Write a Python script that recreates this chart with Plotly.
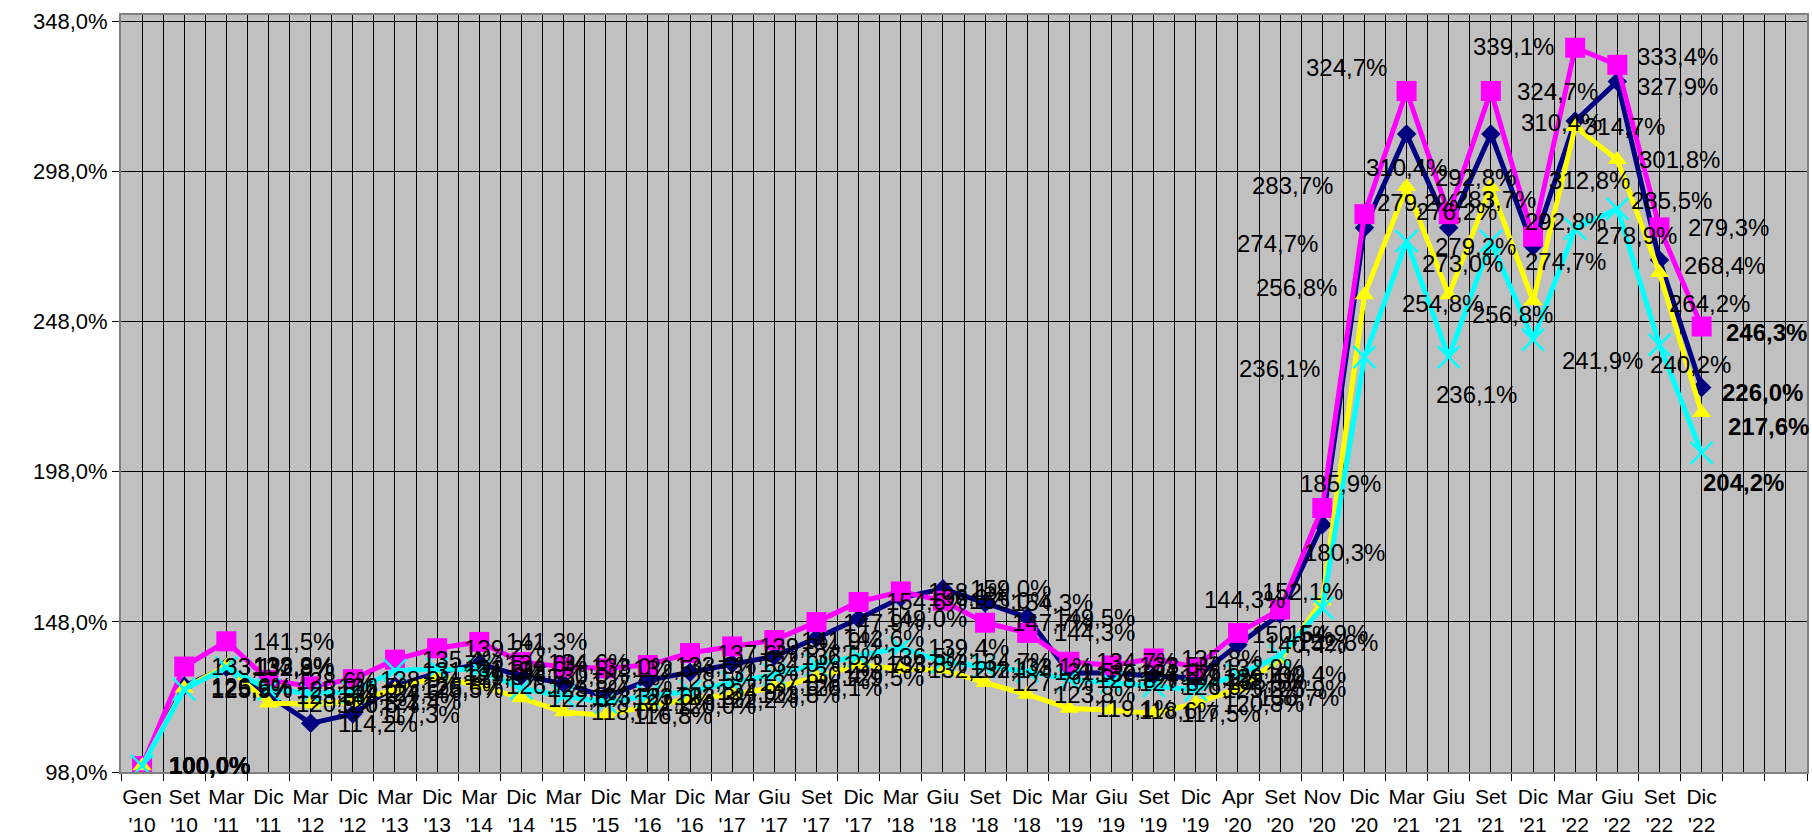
import plotly.graph_objects as go

categories = ["Gen '10", "Set '10", "Mar '11", "Dic '11", "Mar '12", "Dic '12", "Mar '13", "Dic '13",
              "Mar '14", "Dic '14", "Mar '15", "Dic '15", "Mar '16", "Dic '16", "Mar '17", "Giu '17",
              "Set '17", "Dic '17", "Mar '18", "Giu '18", "Set '18", "Dic '18", "Mar '19", "Giu '19",
              "Set '19", "Dic '19", "Apr '20", "Set '20", "Nov '20", "Dic '20", "Mar '21", "Giu '21",
              "Set '21", "Dic '21", "Mar '22", "Giu '22", "Set '22", "Dic '22"]

navy_vals = [100.0, 126.6, 132.9, 123.5, 114.2, 117.3, 126.6, 131.0, 134.0, 130.0,
             127.5, 123.0, 128.5, 131.2, 134.0, 136.5, 142.6, 149.0, 156.0, 159.0,
             154.3, 149.5, 130.9, 131.0, 129.9, 129.4, 140.4, 150.5, 180.3, 279.2,
             310.4, 279.2, 310.4, 273.0, 314.7, 327.9, 268.4, 226.0]
magenta_vals = [100.0, 133.1, 141.5, 128.6, 126.5, 128.9, 135.4, 139.2, 141.3, 134.6,
                133.0, 132.5, 133.6, 137.6, 139.8, 141.9, 147.9, 154.6, 158.1, 155.0,
                147.7, 144.3, 134.7, 133.5, 135.8, 132.9, 144.3, 152.1, 185.9, 283.7,
                324.7, 283.7, 324.7, 276.2, 339.1, 333.4, 279.3, 246.3]
yellow_vals = [100.0, 125.9, 133.3, 120.9, 120.6, 121.4, 125.5, 129.8, 126.7, 122.6,
               118.0, 116.8, 120.0, 122.2, 123.8, 126.1, 129.5, 133.8, 132.2, 132.1,
               127.7, 123.8, 119.1, 118.6, 117.5, 120.8, 125.9, 135.5, 154.9, 256.8,
               292.8, 256.8, 292.8, 254.8, 312.8, 301.8, 264.2, 217.6]
cyan_vals = [100.0, 125.5, 132.8, 125.5, 124.2, 124.6, 131.8, 132.3, 132.0, 125.8,
             123.3, 121.2, 123.3, 124.9, 127.8, 130.4, 133.7, 136.5, 139.4, 134.7,
             133.1, 131.5, 128.8, 127.8, 126.6, 125.3, 130.4, 136.7, 152.6, 236.1,
             274.7, 236.1, 274.7, 241.9, 278.9, 285.5, 240.2, 204.2]

y_ticks = [98, 148, 198, 248, 298, 348]
n_slots = 40  # category slots on the axis (two empty at the end)

FONT = "Liberation Sans, Arial, sans-serif"


def fmt(v):
    return f"{v:.1f}".replace(".", ",") + "%"


# style: (name, values, color, symbol, size)
series = [
    ("navy", navy_vals, "#000080", "diamond", 15),
    ("magenta", magenta_vals, "#FF00FF", "square", 20),
    ("yellow", yellow_vals, "#FFFF00", "triangle-up", 17),
    ("cyan", cyan_vals, "#00FFFF", "x-thin", 22),
]

# label placement overrides (xanchor, x shift px, y shift px)
label_pos = {
    ("magenta", 26): ("center", 7, 33),
    ("magenta", 27): ("center", 22, 18),
    ("navy", 27): ("left", -30, -20),
    ("yellow", 28): ("left", -37, -32),
    ("cyan", 28): ("left", -27, -35),
    ("magenta", 28): ("center", 18, 24),
    ("navy", 28): ("center", 22, -28),
    ("cyan", 27): ("center", 18, -42),
    ("yellow", 27): ("center", -14, -22),
    ("magenta", 29): ("right", -29, 29),
    ("navy", 29): ("left", 11, 25),
    ("yellow", 29): ("right", -25, 7),
    ("cyan", 29): ("right", -42, -11),
    ("magenta", 30): ("right", -18, 24),
    ("navy", 30): ("center", 0, -34),
    ("yellow", 30): ("left", 26, 9),
    ("cyan", 30): ("right", -87, -2),
    ("magenta", 31): ("left", 4, 15),
    ("navy", 31): ("left", -16, -19),
    ("yellow", 31): ("left", 21, -20),
    ("cyan", 31): ("left", -15, -37),
    ("magenta", 32): ("left", 24, 0),
    ("navy", 32): ("left", 28, 11),
    ("yellow", 32): ("left", 32, -35),
    ("cyan", 32): ("left", 32, -20),
    ("magenta", 33): ("right", -34, 25),
    ("navy", 33): ("right", -28, -17),
    ("yellow", 33): ("right", -48, -3),
    ("cyan", 33): ("left", 27, -21),
    ("magenta", 34): ("right", -19, 1),
    ("navy", 34): ("left", 7, -5),
    ("yellow", 34): ("center", 14, -54),
    ("cyan", 34): ("left", 19, -7),
    ("magenta", 35): ("left", 18, 8),
    ("navy", 35): ("left", 18, -5),
    ("yellow", 35): ("left", 20, 0),
    ("cyan", 35): ("left", 12, 8),
    ("magenta", 36): ("left", 27, 0),
    ("navy", 36): ("left", 23, -5),
    ("yellow", 36): ("left", 8, -31),
    ("cyan", 36): ("left", -11, -20),
    ("magenta", 37): ("left", 22, -6),
    ("navy", 37): ("left", 18, -5),
    ("yellow", 37): ("left", 24, -14),
    ("cyan", 37): ("left", -1, -30),
}

fig = go.Figure()
x_idx = list(range(len(categories)))
annotations = []
for name, vals, color, symbol, size in series:
    if symbol == "x-thin":
        marker = dict(symbol=symbol, size=size, color=color, line=dict(color=color, width=2.5))
    else:
        marker = dict(symbol=symbol, size=size, color=color, line=dict(width=0))
    fig.add_trace(go.Scatter(x=x_idx, y=vals, mode="lines+markers", name=name,
                             line=dict(color=color, width=5), marker=marker,
                             showlegend=False, hoverinfo="skip"))
    for i, v in enumerate(vals):
        anchor, dx, dy = label_pos.get((name, i), ("left", 25, 0))
        bold = i == 0 or i == len(vals) - 1
        txt = f"<b>{fmt(v)}</b>" if bold else fmt(v)
        annotations.append(dict(x=i, y=v, xref="x", yref="y", text=txt, showarrow=False,
                                xanchor=anchor, yanchor="middle", xshift=dx, yshift=dy,
                                font=dict(family=FONT, size=24, color="black")))

slot_idx = list(range(n_slots))
slot_text = [c.replace(" ", "<br>") for c in categories] + [""] * (n_slots - len(categories))

fig.update_layout(
    width=1812, height=834,
    margin=dict(l=121, r=5, t=15, b=62, autoexpand=False),
    paper_bgcolor="white", plot_bgcolor="#C0C0C0",
    font=dict(family=FONT, color="black"),
    annotations=annotations,
    xaxis=dict(range=[-0.5, n_slots - 0.5], tickmode="array", tickvals=slot_idx,
               ticktext=slot_text, tickfont=dict(size=21), ticks="", ticklabelstandoff=5,
               automargin=False,
               showgrid=True, gridcolor="#000000", gridwidth=1,
               showline=True, linecolor="#808080", linewidth=2, mirror=True, zeroline=False,
               minor=dict(tickmode="array", tickvals=[k - 0.5 for k in range(n_slots + 1)],
                          ticks="outside", ticklen=7, tickcolor="#000000", tickwidth=1,
                          showgrid=True, gridcolor="#000000", gridwidth=1)),
    yaxis=dict(range=[98, 350], tickmode="array", tickvals=y_ticks,
               ticktext=[f"{t},0%" for t in y_ticks], tickfont=dict(size=22),
               automargin=False,
               ticks="outside", ticklen=7, tickcolor="#000000", showgrid=True,
               gridcolor="#000000", gridwidth=1, showline=True, linecolor="#808080",
               linewidth=2, mirror=True, zeroline=False),
)

fig.write_html("out.html", config={"displayModeBar": False},
               post_script="document.body.style.margin='0';document.body.style.overflow='hidden';")
